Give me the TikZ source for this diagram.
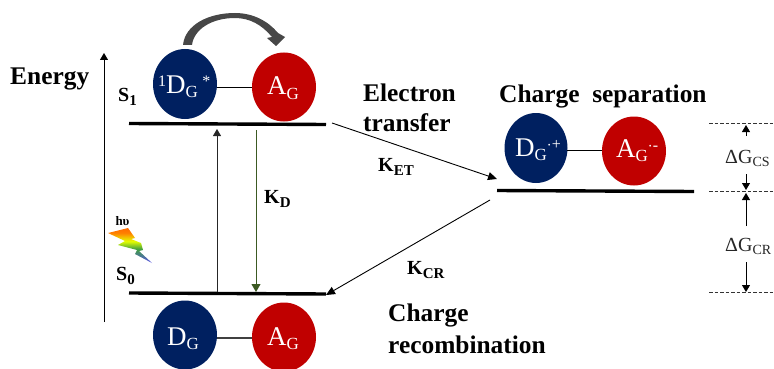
\documentclass[tikz,border=0pt]{standalone}
\usepackage{fontspec}
\setmainfont{Liberation Serif}
\usetikzlibrary{arrows.meta}
\definecolor{dblue}{RGB}{0,32,96}
\definecolor{dred}{RGB}{192,0,0}
\definecolor{kgreen}{RGB}{60,90,35}
\pgfdeclareverticalshading{boltshade}{100bp}{
 color(0bp)=(blue!65!gray!80!white); color(27bp)=(blue!65!gray!80!white); color(45bp)=(green!50!black!75); color(56bp)=(yellow!90!green); color(68bp)=(orange); color(75bp)=(orange!85!red); color(100bp)=(orange!85!red)}
\tikzset{
 x=1pt,y=-1pt,
 mol/.style={inner sep=0pt,text=white,font=\fontsize{27}{28}\selectfont},
 level/.style={line width=3.4pt},
 lab/.style={font=\bfseries\fontsize{20}{24}\selectfont,inner sep=0pt,align=left},
 wordlab/.style={font=\bfseries\fontsize{25.4}{28}\selectfont,inner sep=0pt,align=left},
 link/.style={line width=0.9pt},
 arr/.style={line width=0.9pt,-{Triangle[length=7pt,width=8pt]}},
 dashline/.style={dash pattern=on 3.5pt off 2pt,line width=0.6pt,black!80},
 dg/.style={font=\fontsize{20}{22}\selectfont,inner sep=0pt,text=black!85},
}
\newcommand{\sbs}[1]{{\fontsize{15}{16}\selectfont\raisebox{-0.22em}{#1}}}
\newcommand{\dgs}[1]{{\fontsize{14}{15}\selectfont\raisebox{-0.22em}{#1}}}
\newcommand{\msb}[1]{{\fontsize{17}{18}\selectfont\raisebox{-0.25em}{#1}}}
\newcommand{\msp}[1]{{\fontsize{16}{16}\selectfont\raisebox{0.42em}{#1}}}
\begin{document}
\begin{tikzpicture}[font=\fontsize{20}{24}\selectfont]
\useasboundingbox (0,0) rectangle (774,369);
% level anchors
\coordinate (s1l) at (129,123.5); \coordinate (s1r) at (326,124.5);
\coordinate (s0l) at (129,293); \coordinate (s0r) at (326,294);
\coordinate (csl) at (497,190.5); \coordinate (csr) at (694,191.5);
\draw[level] (s1l) -- (s1r);
\draw[level] (s0l) -- (s0r);
\draw[level] (csl) -- (csr);
% molecules
\path[fill=dblue] (185,84) ellipse [x radius=32,y radius=35];
\path[fill=dred] (284,87) ellipse [x radius=32,y radius=34.5];
\path[fill=dblue] (185,335) ellipse [x radius=32,y radius=34.5];
\path[fill=dred] (284,337) ellipse [x radius=32,y radius=34.5];
\path[fill=dblue] (536,148) ellipse [x radius=31.5,y radius=35];
\path[fill=dred] (634,151) ellipse [x radius=32,y radius=34.5];
\coordinate (da) at (217,87); \coordinate (ab) at (252,87);
\coordinate (db) at (217,338); \coordinate (ac) at (252,338);
\coordinate (dc) at (567,150); \coordinate (ad) at (602,150);
\draw[link] (da) -- (ab);
\draw[link,black!75,line width=1.1pt] (db) -- (ac);
\draw[link] (dc) -- (ad);
\node[mol,anchor=base west] (d1) at (158,93) {\msp{1}D\msb{G}\,\msp{*}};
\node[mol,anchor=base west] (a1) at (267,95) {A\msb{G}};
\node[mol,anchor=base west] (d0) at (167,345) {D\msb{G}};
\node[mol,anchor=base west] (a0) at (267,345) {A\msb{G}};
\node[mol,anchor=base west] (dp) at (515,156) {D\msb{G}\msp{$\cdot$+}};
\node[mol,anchor=base west] (am) at (616,157) {A\msb{G}\msp{$\cdot$-}};
% curved arrow
\fill[black!72] (183,45) .. controls (185,25) and (208,13) .. (235,13)
  .. controls (253,13) and (268,21) .. (278,33) -- (285,37) -- (276,46) -- (267,38) -- (272,37)
  .. controls (262,25) and (250,18) .. (235,18)
  .. controls (212,18) and (194,29) .. (192,45) -- cycle;
% axes and arrows
\coordinate (eb) at (104,322); \coordinate (et) at (104,53);
\draw[line width=0.9pt,-{Triangle[length=7pt,width=8pt]}] (eb) -- (et);
\coordinate (ex0) at (217,292); \coordinate (ex1) at (217,129);
\draw[arr,black!85] (ex0) -- (ex1);
\coordinate (kd0) at (256,130); \coordinate (kd1) at (256,292);
\draw[kgreen,line width=0.8pt,-{Triangle[length=8pt,width=9pt]}] (kd0) -- (kd1);
\coordinate (et0) at (332,123); \coordinate (et1) at (497,179);
\draw[line width=0.9pt,-{Triangle[length=9pt,width=8pt]}] (et0) -- (et1);
\coordinate (cr0) at (490,200); \coordinate (cr1) at (326,295);
\draw[line width=0.9pt,-{Triangle[length=9pt,width=8pt]}] (cr0) -- (cr1);
% dashed levels
\coordinate (g1a) at (709,123); \coordinate (g1b) at (774,123);
\coordinate (g2a) at (709,191); \coordinate (g2b) at (774,191);
\coordinate (g3a) at (709,292); \coordinate (g3b) at (774,292);
\draw[dashline] (g1a) -- (g1b); \draw[dashline] (g2a) -- (g2b); \draw[dashline] (g3a) -- (g3b);
% delta-G arrows
\tikzset{dga/.style={line width=0.9pt,-{Triangle[length=7pt,width=8pt]}}}
\coordinate (p1) at (746,136); \coordinate (p1t) at (746,125);
\coordinate (p2) at (746,174); \coordinate (p2t) at (746,190);
\coordinate (p3) at (746,226); \coordinate (p3t) at (746,193);
\coordinate (p4) at (746,262); \coordinate (p4t) at (746,292);
\draw[dga] (p1) -- (p1t); \draw[dga] (p2) -- (p2t); \draw[dga] (p3) -- (p3t); \draw[dga] (p4) -- (p4t);
\node[dg,anchor=base west] (gcs) at (725,163) {ΔG\dgs{CS}};
\node[dg,anchor=base west] (gcr) at (725,251) {ΔG\dgs{CR}};
% lightning
\shade[shading=boltshade] (108,233) -- (128,228) -- (135,238) -- (131,239) -- (141,243) -- (143,250) -- (139,251) -- (152,263) -- (135,254) -- (137,250) -- (118,245) -- (125,241) -- cycle;
% labels
\node[wordlab,anchor=west] (energy) at (10,79) {Energy};
\node[lab,anchor=west] (s1) at (118,97) {S\sbs{1}};
\node[lab,anchor=west] (s0) at (116,276) {S\sbs{0}};
\node[font=\bfseries\fontsize{13}{14}\selectfont,inner sep=0pt] (hv) at (122.5,221) {hυ};
\node[lab,anchor=west] (kd) at (264,199) {K\sbs{D}};
\node[lab,anchor=west] (ket) at (378,167) {K\sbs{ET}};
\node[lab,anchor=west] (kcr) at (407,270) {K\sbs{CR}};
\node[wordlab,anchor=west] (etr) at (363,92.5) {Electron};
\node[wordlab,anchor=west] (etr2) at (363,123) {transfer};
\node[wordlab,anchor=west] (cs) at (499,96) {Charge\ \ separation};
\node[wordlab,anchor=west] (cr) at (388,315) {Charge};
\node[wordlab,anchor=west] (cr2) at (388,345) {recombination};
\end{tikzpicture}
\end{document}
